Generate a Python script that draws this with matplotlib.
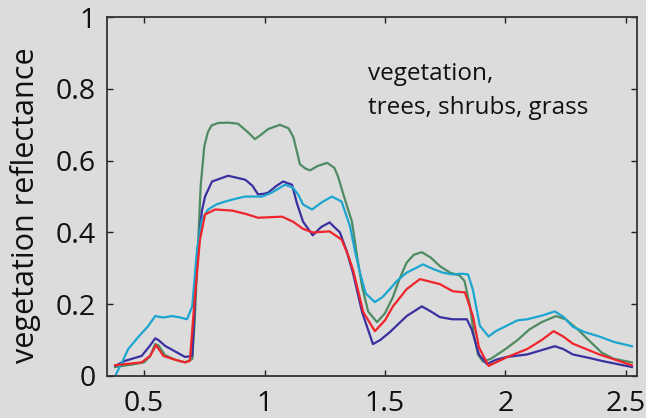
import numpy as np
import matplotlib
matplotlib.use('Agg')
import matplotlib.pyplot as plt

plt.rcParams['font.family'] = ['Open Sans', 'DejaVu Sans']

# wavelength (um) / reflectance
green_x = [0.38, 0.45, 0.50, 0.525, 0.546, 0.56, 0.587, 0.63, 0.67, 0.70, 0.71, 0.72, 0.735, 0.75, 0.765, 0.78,
           0.807, 0.85, 0.89, 0.93, 0.96, 0.985, 1.015, 1.064, 1.10, 1.12, 1.147, 1.17, 1.189, 1.22,
           1.26, 1.29, 1.305, 1.33, 1.363, 1.385, 1.405, 1.43, 1.467, 1.50, 1.533, 1.56, 1.59, 1.62,
           1.653, 1.69, 1.728, 1.77, 1.81, 1.83, 1.853, 1.87, 1.886, 1.907, 1.94, 2.0, 2.05, 2.10,
           2.15, 2.21, 2.25, 2.30, 2.35, 2.40, 2.45, 2.525]
green_y = [0.025, 0.032, 0.038, 0.055, 0.089, 0.085, 0.058, 0.045, 0.038, 0.047, 0.15, 0.306, 0.53, 0.64,
           0.68, 0.698, 0.705, 0.706, 0.703, 0.68, 0.66, 0.672, 0.688, 0.70, 0.69, 0.665, 0.59, 0.578,
           0.573, 0.585, 0.594, 0.58, 0.556, 0.50, 0.43, 0.33, 0.25, 0.18, 0.15, 0.175, 0.22, 0.27,
           0.316, 0.338, 0.345, 0.33, 0.306, 0.288, 0.28, 0.265, 0.195, 0.11, 0.06, 0.04, 0.048, 0.075,
           0.10, 0.13, 0.15, 0.167, 0.158, 0.13, 0.097, 0.065, 0.048, 0.038]

blue_x = [0.38, 0.42, 0.49, 0.525, 0.546, 0.56, 0.587, 0.63, 0.67, 0.70, 0.71, 0.724, 0.74, 0.753, 0.782,
          0.849, 0.92, 0.95, 0.973, 1.0, 1.015, 1.05, 1.077, 1.114, 1.135, 1.16, 1.20, 1.235, 1.27,
          1.313, 1.34, 1.367, 1.405, 1.45, 1.48, 1.52, 1.59, 1.653, 1.69, 1.728, 1.78, 1.84, 1.86,
          1.89, 1.923, 1.96, 2.005, 2.09, 2.15, 2.205, 2.24, 2.28, 2.35, 2.40, 2.525]
blue_y = [0.028, 0.042, 0.056, 0.085, 0.105, 0.10, 0.084, 0.068, 0.053, 0.056, 0.2, 0.353, 0.46, 0.50, 0.542,
          0.558, 0.547, 0.53, 0.506, 0.508, 0.511, 0.53, 0.542, 0.533, 0.48, 0.43, 0.392, 0.415, 0.428,
          0.40, 0.35, 0.288, 0.178, 0.089, 0.10, 0.122, 0.167, 0.194, 0.18, 0.164, 0.158, 0.158, 0.13,
          0.06, 0.033, 0.045, 0.053, 0.06, 0.072, 0.083, 0.075, 0.06, 0.05, 0.042, 0.025]

cyan_x = [0.38, 0.41, 0.434, 0.475, 0.517, 0.546, 0.58, 0.616, 0.65, 0.678, 0.70, 0.72, 0.74, 0.766,
          0.80, 0.836, 0.88, 0.92, 0.99, 1.03, 1.085, 1.118, 1.14, 1.16, 1.197, 1.24, 1.28, 1.32,
          1.355, 1.375, 1.396, 1.42, 1.458, 1.49, 1.52, 1.55, 1.59, 1.658, 1.70, 1.74, 1.78, 1.82,
          1.845, 1.865, 1.894, 1.93, 1.96, 2.005, 2.05, 2.09, 2.15, 2.205, 2.24, 2.28, 2.33, 2.39,
          2.45, 2.525]
cyan_y = [0.0, 0.04, 0.075, 0.108, 0.139, 0.167, 0.163, 0.167, 0.163, 0.158, 0.194, 0.353, 0.436,
          0.464, 0.478, 0.486, 0.494, 0.50, 0.50, 0.511, 0.533, 0.525, 0.505, 0.478, 0.464, 0.485,
          0.50, 0.486, 0.417, 0.35, 0.288, 0.23, 0.206, 0.22, 0.242, 0.265, 0.288, 0.311, 0.298,
          0.288, 0.283, 0.285, 0.283, 0.24, 0.14, 0.11, 0.125, 0.14, 0.155, 0.158, 0.168, 0.18,
          0.165, 0.137, 0.122, 0.11, 0.095, 0.083]

red_x = [0.38, 0.49, 0.525, 0.55, 0.58, 0.63, 0.67, 0.69, 0.71, 0.732, 0.753, 0.795, 0.865, 0.92,
         0.973, 1.073, 1.118, 1.16, 1.2, 1.27, 1.32, 1.345, 1.367, 1.41, 1.458, 1.50, 1.533, 1.59,
         1.645, 1.728, 1.782, 1.832, 1.865, 1.89, 1.93, 2.005, 2.09, 2.15, 2.2, 2.24, 2.28, 2.39, 2.525]
red_y = [0.03, 0.038, 0.056, 0.086, 0.056, 0.045, 0.038, 0.042, 0.214, 0.38, 0.45, 0.464, 0.461,
         0.452, 0.441, 0.444, 0.43, 0.41, 0.40, 0.403, 0.38, 0.34, 0.297, 0.178, 0.125, 0.155, 0.194,
         0.242, 0.27, 0.256, 0.236, 0.233, 0.167, 0.08, 0.028, 0.052, 0.075, 0.10, 0.125, 0.11, 0.09,
         0.06, 0.03]

xticks = [0.5, 1, 1.5, 2, 2.5]
xticklabels = ['0.5', '1', '1.5', '2', '2.5']
yticks = [0, 0.2, 0.4, 0.6, 0.8, 1]
yticklabels = ['0', '0.2', '0.4', '0.6', '0.8', '1']

bg = '#dcdcdc'
fig = plt.figure(figsize=(6.46, 4.18), dpi=100, facecolor=bg)
ax = fig.add_axes([0.1656, 0.1005, 0.8204, 0.8585], facecolor=bg)

ax.plot(green_x, green_y, color='#4e8b63', lw=1.6)
ax.plot(blue_x, blue_y, color='#3a30a0', lw=1.6)
ax.plot(cyan_x, cyan_y, color='#1ca5cf', lw=1.6)
ax.plot(red_x, red_y, color='#f0252b', lw=1.6)

ax.set_xlim(0.346, 2.546)
ax.set_ylim(0, 1)
ax.set_xticks(xticks)
ax.set_xticklabels(xticklabels)
ax.set_yticks(yticks)
ax.set_yticklabels(yticklabels)
ax.tick_params(direction='in', top=True, right=True, length=4, width=1, color='#222222',
               labelsize=20.5, labelcolor='#111111')
ax.tick_params(axis='x', pad=10)
ax.tick_params(axis='y', pad=8)
for s in ax.spines.values():
    s.set_linewidth(1.3)
    s.set_color('#333333')

ax.set_ylabel('vegetation reflectance', fontsize=22, color='#111111')
ax.yaxis.set_label_coords(-0.124, 0.476)

ax.text(1.43, 0.825, 'vegetation,', fontsize=17.5, color='#111111', va='baseline')
ax.text(1.43, 0.731, 'trees, shrubs, grass', fontsize=17.5, color='#111111', va='baseline')

fig.savefig('out.png', dpi=100, facecolor=bg)
